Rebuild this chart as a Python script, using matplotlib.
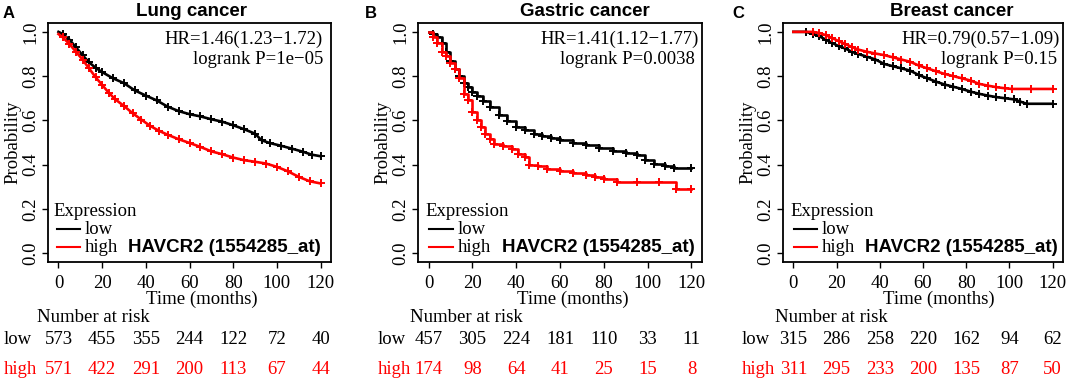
import matplotlib
matplotlib.use("Agg")
import matplotlib.pyplot as plt
import matplotlib.transforms as mtransforms
from matplotlib.lines import Line2D

W, H = 1071, 379
SERIF = "Liberation Serif"
SANS = "Liberation Sans"
FS = 13.5

risk_times = [0, 20, 40, 60, 80, 100, 120]

# A: lung cancer
lung_low_t = [0, 2, 5, 8, 11, 14, 17, 20, 25, 30, 35, 40, 45, 50, 55, 60, 65, 70, 75,
              80, 85, 90, 93, 97, 102, 107, 112, 116, 120]
lung_low_s = [1.0, 0.99, 0.965, 0.93, 0.895, 0.862, 0.838, 0.818, 0.79, 0.768, 0.735,
              0.712, 0.69, 0.662, 0.642, 0.628, 0.618, 0.605, 0.594, 0.578, 0.56, 0.54,
              0.51, 0.497, 0.485, 0.472, 0.458, 0.445, 0.438]
lung_high_t = [0, 2, 5, 8, 11, 14, 17, 20, 23, 26, 30, 34, 38, 42, 46, 50, 55, 60, 65,
               70, 75, 80, 85, 90, 95, 100, 105, 110, 115, 120]
lung_high_s = [0.99, 0.975, 0.945, 0.91, 0.875, 0.835, 0.795, 0.76, 0.725, 0.695, 0.665,
               0.632, 0.603, 0.575, 0.553, 0.535, 0.515, 0.498, 0.48, 0.46, 0.447, 0.432,
               0.42, 0.413, 0.405, 0.39, 0.37, 0.345, 0.325, 0.315]
lung_risk_low = [573, 455, 355, 244, 122, 72, 40]
lung_risk_high = [571, 422, 291, 200, 113, 67, 44]

# B: gastric cancer
gas_low_t = [0, 2, 4, 6, 8, 10, 12, 14, 16, 18, 20, 22, 25, 28, 32, 36, 40, 44, 48, 52,
             56, 60, 66, 72, 78, 84, 90, 95, 99, 103, 108, 112, 120]
gas_low_s = [1.0, 0.99, 0.975, 0.95, 0.91, 0.87, 0.83, 0.8, 0.77, 0.75, 0.728, 0.712,
             0.688, 0.66, 0.625, 0.597, 0.572, 0.555, 0.54, 0.53, 0.522, 0.513, 0.5,
             0.487, 0.475, 0.463, 0.452, 0.443, 0.42, 0.405, 0.395, 0.387, 0.387]
gas_high_t = [0, 2, 4, 6, 8, 10, 12, 14, 16, 18, 20, 22, 24, 26, 28, 30, 34, 38, 41, 44,
              46, 50, 54, 60, 66, 72, 76, 80, 86, 95, 105, 113, 120]
gas_high_s = [1.0, 0.975, 0.95, 0.91, 0.89, 0.86, 0.83, 0.79, 0.72, 0.69, 0.64, 0.6,
              0.57, 0.54, 0.515, 0.495, 0.485, 0.47, 0.45, 0.435, 0.40, 0.395, 0.38,
              0.372, 0.362, 0.355, 0.345, 0.335, 0.322, 0.32, 0.32, 0.29, 0.29]
gas_risk_low = [457, 305, 224, 181, 110, 33, 11]
gas_risk_high = [174, 98, 64, 41, 25, 15, 8]

# C: breast cancer
br_low_t = [0, 6, 9, 12, 15, 18, 21, 24, 27, 30, 34, 38, 42, 46, 50, 54, 58, 62, 66, 70,
            74, 78, 82, 86, 90, 94, 98, 102, 105, 108, 120]
br_low_s = [1.0, 1.0, 0.99, 0.98, 0.965, 0.95, 0.935, 0.925, 0.91, 0.9, 0.888, 0.875,
            0.855, 0.845, 0.835, 0.825, 0.805, 0.79, 0.775, 0.762, 0.752, 0.742, 0.73,
            0.72, 0.712, 0.705, 0.7, 0.695, 0.685, 0.675, 0.675]
br_high_t = [0, 9, 12, 15, 18, 21, 24, 27, 30, 34, 38, 42, 46, 50, 54, 58, 62, 66, 70,
             74, 78, 82, 86, 90, 94, 98, 101, 110, 120]
br_high_s = [1.0, 1.0, 0.995, 0.985, 0.972, 0.958, 0.945, 0.932, 0.92, 0.91, 0.902,
             0.895, 0.885, 0.875, 0.865, 0.848, 0.835, 0.822, 0.81, 0.8, 0.79, 0.78,
             0.765, 0.757, 0.75, 0.745, 0.742, 0.742, 0.742]
br_risk_low = [315, 286, 258, 220, 162, 94, 62]
br_risk_high = [311, 295, 233, 200, 135, 87, 50]

panels = [
    dict(letter="A", title="Lung cancer", hr="HR=1.46(1.23\u22121.72)", p="logrank P=1e\u221205",
         low=(lung_low_t, lung_low_s), high=(lung_high_t, lung_high_s),
         rl=lung_risk_low, rh=lung_risk_high, steps=False,
         box=(48, 331), letter_x=3, title_x=191, hr_x=323, p_x=323, time_x=202,
         nar_x=37, lab_x=4, legend_x=(53, 57, 80, 85, 128)),
    dict(letter="B", title="Gastric cancer", hr="HR=1.41(1.12\u22121.77)", p="logrank P=0.0038",
         low=(gas_low_t, gas_low_s), high=(gas_high_t, gas_high_s),
         rl=gas_risk_low, rh=gas_risk_high, steps=True,
         box=(418, 702), letter_x=365, title_x=585, hr_x=699, p_x=695, time_x=573,
         nar_x=410, lab_x=378, legend_x=(425, 429, 453, 458, 502)),
    dict(letter="C", title="Breast cancer", hr="HR=0.79(0.57\u22121.09)", p="logrank P=0.15",
         low=(br_low_t, br_low_s), high=(br_high_t, br_high_s),
         rl=br_risk_low, rh=br_risk_high, steps=False,
         box=(783, 1063), letter_x=732, title_x=952, hr_x=1060, p_x=1057, time_x=939,
         nar_x=775, lab_x=742, legend_x=(790, 794, 817, 822, 865)),
]

fig = plt.figure(figsize=(W / 100, H / 100), dpi=100)


def fx(x):
    return x / W


def fy(y):
    return 1 - y / H


top, bottom = 23, 262
for pn in panels:
    l, r = pn["box"]
    ax = fig.add_axes([fx(l), fy(bottom), (r - l) / W, (bottom - top) / H])
    ax.set_xlim(-4.8, 124.8)
    ax.set_ylim(-0.04, 1.04)
    ds = "steps-post" if pn["steps"] else "default"
    for (t, s), c in ((pn["low"], "black"), (pn["high"], "red")):
        ax.plot(t, s, color=c, lw=1.9, drawstyle=ds)
        ax.plot(t[1:], s[1:], ls="none", marker="+", ms=6, mew=1.4, color=c)
    ax.set_xticks(risk_times)
    ax.set_yticks([0.0, 0.2, 0.4, 0.6, 0.8, 1.0])
    ax.set_yticklabels(["0.0", "0.2", "0.4", "0.6", "0.8", "1.0"], rotation=90, va="center")
    ax.tick_params(length=4, width=1, labelsize=FS)
    ax.tick_params(axis="x", pad=5)
    ax.tick_params(axis="y", pad=2)
    for lab in ax.get_xticklabels() + ax.get_yticklabels():
        lab.set_fontfamily(SERIF)
    ax.set_ylabel("Probability", fontfamily=SERIF, fontsize=FS, labelpad=1)
    for sp in ax.spines.values():
        sp.set_linewidth(1.3)

    fig.text(fx(pn["letter_x"]), fy(14), pn["letter"], fontfamily=SANS, fontweight="bold",
             fontsize=12, va="center", ha="left")
    fig.text(fx(pn["title_x"]), fy(11), pn["title"], fontfamily=SANS, fontweight="bold",
             fontsize=FS, va="center", ha="center")
    fig.text(fx(pn["hr_x"]), fy(39), pn["hr"], fontfamily=SERIF, fontsize=FS,
             va="center", ha="right")
    fig.text(fx(pn["p_x"]), fy(59), pn["p"], fontfamily=SERIF, fontsize=FS,
             va="center", ha="right")

    ex, x1, x2, tx, gx = pn["legend_x"]
    fig.text(fx(ex), fy(212), "Expression", fontfamily=SERIF, fontsize=FS, va="center")
    for yy, name, c in ((229, "low", "black"), (247, "high", "red")):
        fig.add_artist(Line2D([fx(x1), fx(x2)], [fy(yy), fy(yy)], color=c, lw=1.5,
                              transform=fig.transFigure))
        fig.text(fx(tx), fy(yy), name, fontfamily=SERIF, fontsize=FS, va="center")
    fig.text(fx(gx), fy(247), "HAVCR2 (1554285_at)", fontfamily=SANS, fontweight="bold",
             fontsize=FS, va="center")

    fig.text(fx(pn["time_x"]), fy(299), "Time (months)", fontfamily=SERIF, fontsize=FS,
             va="center", ha="center")
    fig.text(fx(pn["nar_x"]), fy(318), "Number at risk", fontfamily=SERIF, fontsize=FS,
             va="center", ha="left")
    blend = mtransforms.blended_transform_factory(ax.transData, fig.transFigure)
    for yy, name, vals, c in ((340, "low", pn["rl"], "black"), (370, "high", pn["rh"], "red")):
        fig.text(fx(pn["lab_x"]), fy(yy), name, fontfamily=SERIF, fontsize=FS,
                 va="center", ha="left", color=c)
        for t, v in zip(risk_times, vals):
            fig.text(t, fy(yy), str(v), transform=blend, fontfamily=SERIF, fontsize=FS,
                     va="center", ha="center", color=c)

fig.savefig("out.png", dpi=100)
